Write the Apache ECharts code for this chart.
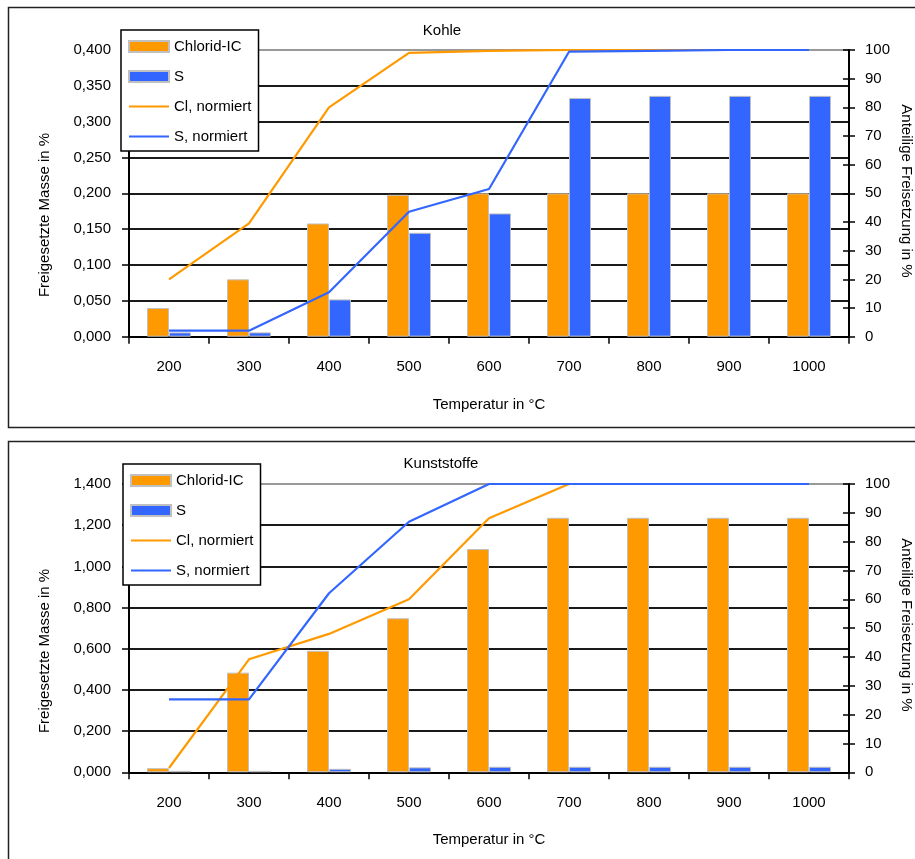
<!DOCTYPE html>
<html>
<head>
<meta charset="utf-8">
<script src="https://cdn.jsdelivr.net/npm/echarts@6/dist/echarts.min.js"></script>
<style>
  html, body { margin: 0; padding: 0; background: #fff; }
  #chart { width: 915px; height: 859px; }
</style>
</head>
<body>
<div id="chart"></div>
<script>
// Temperatures (°C) on the category axis
const categories = ['200', '300', '400', '500', '600', '700', '800', '900', '1000'];

// Kohle: released mass in % (left axis) and normalised release in % (right axis)
const kohleChlorid = [0.040, 0.080, 0.158, 0.198, 0.200, 0.200, 0.200, 0.200, 0.200];
const kohleS = [0.006, 0.006, 0.052, 0.145, 0.172, 0.333, 0.336, 0.336, 0.336];
const kohleClNorm = [20.0, 39.5, 80.0, 99.0, 99.7, 100, 100, 100, 100];
const kohleSNorm = [2.1, 2.1, 15.5, 43.6, 51.5, 99.4, 99.7, 100, 100];

// Kunststoffe
const kunstChlorid = [0.020, 0.484, 0.590, 0.748, 1.084, 1.236, 1.236, 1.236, 1.236];
const kunstS = [0.007, 0.007, 0.017, 0.024, 0.027, 0.027, 0.027, 0.027, 0.027];
const kunstClNorm = [1.5, 39.2, 48.0, 60.0, 88.1, 100, 100, 100, 100];
const kunstSNorm = [25.3, 25.3, 62.1, 86.9, 100, 100, 100, 100, 100];

const FONT = 'Liberation Sans, Arial, sans-serif';
const FS = 15;
const ORANGE = '#FF9900';
const BLUE = '#3366FF';
const BAR_BORDER = '#C0C0C0';

const chart = echarts.init(document.getElementById('chart'), null, { renderer: 'canvas' });

function fmtMass(v) {
  return v.toFixed(3).replace('.', ',');
}

function gridLineColors(count) {
  // last split line (top of plot) is the lighter plot-area border
  const c = [];
  for (let i = 0; i < count; i++) c.push('#1a1a1a');
  c.push('#999');
  return c;
}

function xAxisFor(gridIndex) {
  return {
    type: 'category', gridIndex, data: categories,
    axisLine: { lineStyle: { color: '#000', width: 2 } },
    axisTick: { show: true, length: 7, inside: false, lineStyle: { color: '#000', width: 1.5 } },
    axisLabel: { color: '#000', fontFamily: FONT, fontSize: FS, margin: 23 },
    splitLine: { show: false }
  };
}

function leftAxis(gridIndex, max, interval, lines) {
  return {
    type: 'value', gridIndex, position: 'left', min: 0, max, interval,
    axisLine: { show: true, lineStyle: { color: '#000', width: 2 } },
    axisTick: { show: true, length: 7, lineStyle: { color: '#000', width: 1.5 } },
    axisLabel: { color: '#000', fontFamily: FONT, fontSize: FS, margin: 18, formatter: fmtMass },
    splitLine: { show: true, lineStyle: { color: gridLineColors(lines), width: 2 } }
  };
}

function rightAxis(gridIndex) {
  return {
    type: 'value', gridIndex, position: 'right', min: 0, max: 100, interval: 10,
    axisLine: { show: true, lineStyle: { color: '#000', width: 2 } },
    axisTick: { show: true, length: 6, lineStyle: { color: '#000', width: 1.5 } },
    axisLabel: { color: '#000', fontFamily: FONT, fontSize: FS, margin: 16 },
    splitLine: { show: false }
  };
}

// companion axis drawing the inner half of the crossing ticks on the right
function rightInnerTicks(gridIndex) {
  return {
    type: 'value', gridIndex, position: 'right', min: 0, max: 100, interval: 10,
    axisLine: { show: false },
    axisTick: { show: true, inside: true, length: 6, lineStyle: { color: '#000', width: 1.5 } },
    axisLabel: { show: false },
    splitLine: { show: false }
  };
}

function barSeries(name, data, color, xi, yi) {
  return {
    name, type: 'bar', xAxisIndex: xi, yAxisIndex: yi, data,
    barWidth: 22, barGap: '0%',
    itemStyle: { color, borderColor: BAR_BORDER, borderWidth: 1 },
    emphasis: { disabled: true }
  };
}

function lineSeries(name, data, color, xi, yi) {
  return {
    name, type: 'line', xAxisIndex: xi, yAxisIndex: yi, data,
    symbol: 'none', z: 5,
    lineStyle: { color, width: 2.2 },
    itemStyle: { color },
    emphasis: { disabled: true }
  };
}

function legendFor(left, top) {
  return {
    orient: 'vertical', left, top,
    padding: [9, 7, 7, 7],
    itemWidth: 40, itemHeight: 11, itemGap: 15,
    backgroundColor: '#fff', borderColor: '#000', borderWidth: 1.5,
    textStyle: { color: '#000', fontFamily: FONT, fontSize: FS },
    selectedMode: false, z: 10,
    data: [
      { name: 'Chlorid-IC', icon: 'rect' },
      { name: 'S', icon: 'rect' },
      { name: 'Cl, normiert', itemStyle: { opacity: 0 } },
      { name: 'S, normiert', itemStyle: { opacity: 0 } }
    ]
  };
}

function label(text, x, y, rotation) {
  return {
    type: 'text', x, y, rotation: rotation || 0, z: 20,
    style: {
      text, fill: '#000', font: FS + 'px ' + FONT,
      textAlign: 'center', textVerticalAlign: 'middle'
    }
  };
}

const option = {
  animation: false,
  backgroundColor: '#fff',
  grid: [
    { left: 129, top: 50, width: 720, height: 286.7 },
    { left: 129, top: 484, width: 720, height: 288.3 }
  ],
  xAxis: [xAxisFor(0), xAxisFor(1)],
  yAxis: [
    leftAxis(0, 0.4, 0.05, 8),
    rightAxis(0),
    rightInnerTicks(0),
    leftAxis(1, 1.4, 0.2, 7),
    rightAxis(1),
    rightInnerTicks(1)
  ],
  legend: [legendFor(121, 30), legendFor(123, 464)],
  series: [
    barSeries('Chlorid-IC', kohleChlorid, ORANGE, 0, 0),
    barSeries('S', kohleS, BLUE, 0, 0),
    lineSeries('Cl, normiert', kohleClNorm, ORANGE, 0, 1),
    lineSeries('S, normiert', kohleSNorm, BLUE, 0, 1),
    barSeries('Chlorid-IC', kunstChlorid, ORANGE, 1, 3),
    barSeries('S', kunstS, BLUE, 1, 3),
    lineSeries('Cl, normiert', kunstClNorm, ORANGE, 1, 4),
    lineSeries('S, normiert', kunstSNorm, BLUE, 1, 4)
  ],
  graphic: [
    // chart frames
    { type: 'rect', z: 0, shape: { x: 8.5, y: 7.5, width: 940, height: 420 },
      style: { fill: 'none', stroke: '#222', lineWidth: 1.5 } },
    { type: 'rect', z: 0, shape: { x: 8.5, y: 441.5, width: 940, height: 440 },
      style: { fill: 'none', stroke: '#222', lineWidth: 1.5 } },
    // titles
    label('Kohle', 442, 31),
    label('Kunststoffe', 441, 464),
    // axis names
    label('Freigesetzte Masse in %', 45, 215, Math.PI / 2),
    label('Anteilige Freisetzung in %', 906, 191, -Math.PI / 2),
    label('Temperatur in °C', 489, 405),
    label('Freigesetzte Masse in %', 45, 651, Math.PI / 2),
    label('Anteilige Freisetzung in %', 906, 625, -Math.PI / 2),
    label('Temperatur in °C', 489, 840)
  ]
};

chart.setOption(option);
</script>
</body>
</html>
